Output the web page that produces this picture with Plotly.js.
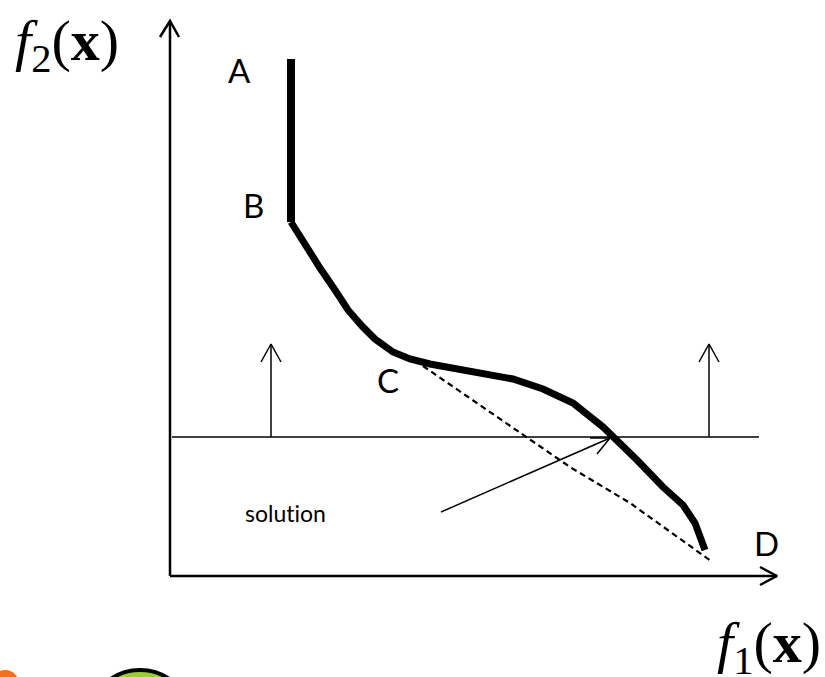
<!DOCTYPE html>
<html>
<head>
<meta charset="utf-8">
<script src="https://cdn.plot.ly/plotly-3.0.1.min.js"></script>
<style>html,body{margin:0;padding:0;background:#fff;}#chart{width:825px;height:677px;}</style>
</head>
<body>
<div id="chart"></div>
<script>
// Coordinates: f1 to the right, f2 upward, origin at the axes corner.
// Segment A-B (vertical part of the front)
const abX = [121, 121];
const abY = [517, 354];
// Curve B-C-D
const curveX = [121, 135, 150, 165, 178, 192, 205, 223, 240, 260, 300, 343, 373, 403, 433, 447, 467, 493, 513, 525, 535];
const curveY = [354, 331, 308, 286, 266, 250, 237, 224, 217, 212, 204, 197, 187, 173, 149, 136, 116, 89, 71, 53, 26];
// Dashed chord C-D
const chordX = [253, 400, 460, 507, 541];
const chordY = [210, 109, 73, 39, 15];
// Horizontal constraint line
const constraintX = [2, 589];
const constraintY = [139, 139];
// Up arrows on constraint (shaft + V head)
const upArrowXs = [101, 539];
const upArrowBase = 139;
const upArrowTip = 232;
const upArrowHeadBack = 214;
const upArrowHeadHalf = 10;
// Solution pointer
const solArrowX = [271, 440];
const solArrowY = [64, 138];
const solHeadX = [420, 440, 427];
const solHeadY = [138, 138, 122];
// Axes
const yAxisX = [0, 0];
const yAxisY = [0, 555];
const yHeadX = [-10, 0, 9];
const yHeadY = [539, 555, 539];
const xAxisX = [0, 607];
const xAxisY = [0, 0];
const xHeadX = [590, 607, 590];
const xHeadY = [9, 0, -9];
// Labels
const pointLabels = ['A', 'B', 'C', 'D'];
const pointLabelX = [69, 83, 218, 596];
const pointLabelY = [506, 371, 196, 33];
const solutionText = 'solut\u200Cion';
const solutionPos = [115, 63];

function line(x, y, w, dash) {
  return {x: x, y: y, type: 'scatter', mode: 'lines', hoverinfo: 'skip', showlegend: false,
    line: {color: '#000', width: w, dash: dash || 'solid'}};
}

const traces = [];
traces.push(line(yAxisX, yAxisY, 2.5));
traces.push(line(yHeadX, yHeadY, 2.5));
traces.push(line(xAxisX, xAxisY, 2.5));
traces.push(line(xHeadX, xHeadY, 2.5));
traces.push(line(constraintX, constraintY, 1.5));
upArrowXs.forEach(function (ax) {
  traces.push(line([ax, ax], [upArrowBase, upArrowTip], 1.5));
  traces.push(line([ax - upArrowHeadHalf, ax, ax + upArrowHeadHalf], [upArrowHeadBack, upArrowTip, upArrowHeadBack], 1.5));
});
traces.push(line(chordX, chordY, 2.2, '6px,4px'));
traces.push(line(solArrowX, solArrowY, 1.5));
traces.push(line(solHeadX, solHeadY, 1.5));
traces.push(line(abX, abY, 8));
traces.push(line(curveX, curveY, 7));

const labelFont = {family: 'Lato, Carlito, sans-serif', size: 33, color: '#000'};
const annotations = pointLabels.map(function (t, i) {
  return {x: pointLabelX[i], y: pointLabelY[i], xref: 'x', yref: 'y', text: t, showarrow: false,
    font: labelFont, xanchor: 'center', yanchor: 'middle'};
});
annotations.push({x: solutionPos[0], y: solutionPos[1], xref: 'x', yref: 'y', text: solutionText,
  showarrow: false, font: {family: 'Lato, sans-serif', size: 23, color: '#000'}, xanchor: 'center', yanchor: 'middle'});
const serif = {family: 'Liberation Serif, Times New Roman, serif', size: 58, color: '#000'};
annotations.push({x: -157, y: 532, xref: 'x', yref: 'y', text: '<i>f</i><sub>2</sub>(<b>x</b>)',
  showarrow: false, font: serif, xanchor: 'left', yanchor: 'middle'});
annotations.push({x: 545, y: -70, xref: 'x', yref: 'y', text: '<i>f</i><sub>1</sub>(<b>x</b>)',
  showarrow: false, font: serif, xanchor: 'left', yanchor: 'middle'});

const shapes = [
  {type: 'circle', xref: 'x', yref: 'y', x0: -179, x1: -151, y0: -94, y1: -122,
    fillcolor: '#F07022', line: {width: 0}},
  {type: 'circle', xref: 'x', yref: 'y', x0: -82, x1: 22, y0: -94, y1: -198,
    fillcolor: '#9BCB3B', line: {color: '#000', width: 4}}
];

const layout = {
  width: 825, height: 677,
  margin: {l: 0, r: 0, t: 0, b: 0},
  paper_bgcolor: '#fff', plot_bgcolor: '#fff',
  xaxis: {range: [-170, 655], visible: false, fixedrange: true},
  yaxis: {range: [-101, 576], visible: false, fixedrange: true},
  annotations: annotations,
  shapes: shapes,
  showlegend: false
};

Plotly.newPlot('chart', traces, layout, {displayModeBar: false, staticPlot: true});
</script>
</body>
</html>
